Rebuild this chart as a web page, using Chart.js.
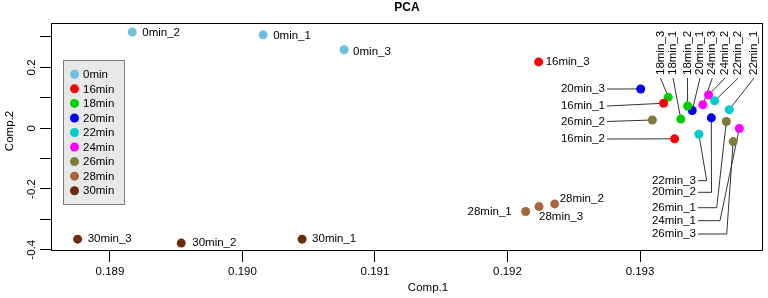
<!DOCTYPE html>
<html>
<head>
<meta charset="utf-8">
<script src="https://cdn.jsdelivr.net/npm/chart.js@4.4.1/dist/chart.umd.min.js"></script>
<style>
  html, body { margin: 0; padding: 0; background: #fff; }
  canvas { display: block; }
</style>
</head>
<body>
<canvas id="pcaChart" width="768" height="298"></canvas>
<script>
// groups and replicate scores (_1, _2, _3)
const groups = ['0min', '16min', '18min', '20min', '22min', '24min', '26min', '28min', '30min'];
const groupColors = ['#6EBFE0', '#FF0000', '#00CD00', '#0000EE', '#00CDCD', '#FF00FF', '#7D7A3A', '#A5663F', '#6E2C0C'];

const comp1 = [
    [0.190156, 0.189168, 0.190767],
    [0.193178, 0.193261, 0.192235],
    [0.193308, 0.193359, 0.193213],
    [0.193394, 0.193538, 0.193005],
    [0.193673, 0.193563, 0.193444],
    [0.193749, 0.193517, 0.193474],
    [0.193651, 0.193093, 0.193703],
    [0.192137, 0.192356, 0.192238],
    [0.190450, 0.189538, 0.188756]
];
const comp2 = [
    [0.307, 0.316, 0.258],
    [0.082, -0.035, 0.218],
    [0.030, 0.073, 0.102],
    [0.058, 0.034, 0.129],
    [0.061, 0.090, -0.020],
    [-0.001, 0.109, 0.077],
    [0.022, 0.027, -0.044],
    [-0.274, -0.249, -0.258],
    [-0.365, -0.378, -0.365]
];

const xTicks = [0.189, 0.190, 0.191, 0.192, 0.193];
const yTicks = [-0.4, -0.3, -0.2, -0.1, 0, 0.1, 0.2, 0.3];
const yTickLabels = { '-0.4': '-0.4', '-0.2': '-0.2', '0': '0', '0.2': '0.2' };

// label placement (pixels): plain offset labels, side labels with leaders, rotated top labels
const labelLayout = {
    '0min_1': { dx: 10, dy: 1 }, '0min_2': { dx: 10, dy: 1 }, '0min_3': { dx: 9, dy: 2 },
    '16min_3': { dx: 7, dy: 0 },
    '28min_1': { dx: -14, dy: 0, align: 'right' }, '28min_2': { dx: 5, dy: -5 }, '28min_3': { dx: 0, dy: 10 },
    '30min_1': { dx: 10, dy: 0 }, '30min_2': { dx: 11, dy: 0 }, '30min_3': { dx: 10, dy: 0 },
    '20min_3': { at: [605, 89], align: 'right' },
    '16min_1': { at: [605, 106], align: 'right' },
    '26min_2': { at: [605, 121.5], align: 'right' },
    '16min_2': { at: [605, 139], align: 'right' },
    '22min_3': { at: [696, 180.7], align: 'right', elbow: [706.7, 180.7] },
    '20min_2': { at: [696, 192.3], align: 'right', elbow: [711.5, 192.3] },
    '26min_1': { at: [696, 207.7], align: 'right', elbow: [716.7, 207.7] },
    '24min_1': { at: [696, 220.7], align: 'right', elbow: [720, 220.7] },
    '26min_3': { at: [696, 234], align: 'right', elbow: [726.7, 234] },
    '18min_3': { at: [660.5, 75], rot: true }, '18min_1': { at: [673, 75], rot: true },
    '18min_2': { at: [687.5, 75], rot: true }, '20min_1': { at: [700, 75], rot: true },
    '24min_3': { at: [712.3, 75], rot: true }, '24min_2': { at: [725, 75], rot: true },
    '22min_2': { at: [738.3, 75], rot: true }, '22min_1': { at: [754, 75], rot: true }
};

const FONT = '11.5px "Liberation Sans", Arial, sans-serif';

function eachPoint(chart, fn) {
    chart.data.datasets.forEach(ds => {
        ds.data.forEach(p => {
            fn(p, chart.scales.x.getPixelForValue(p.x), chart.scales.y.getPixelForValue(p.y));
        });
    });
}

const pcaDecor = {
    id: 'pcaDecor',
    beforeDatasetsDraw(chart) {
        const ctx = chart.ctx;
        ctx.save();
        ctx.strokeStyle = '#333';
        ctx.lineWidth = 1;
        eachPoint(chart, (p, px, py) => {
            const L = labelLayout[p.name];
            if (!L || !L.at) return;
            ctx.beginPath();
            if (L.rot) {
                ctx.moveTo(L.at[0], L.at[1] + 3);
            } else {
                ctx.moveTo(L.at[0] + 2, L.at[1]);
                if (L.elbow) ctx.lineTo(L.elbow[0], L.elbow[1]);
            }
            ctx.lineTo(px, py);
            ctx.stroke();
        });
        ctx.restore();
    },
    afterDatasetsDraw(chart) {
        const ctx = chart.ctx;
        const a = chart.chartArea;
        ctx.save();

        // frame
        ctx.strokeStyle = '#000';
        ctx.lineWidth = 1;
        ctx.strokeRect(Math.round(a.left) + 0.5, Math.round(a.top) + 0.5,
            Math.round(a.right - a.left) - 1, Math.round(a.bottom - a.top) - 1);

        ctx.fillStyle = '#000';
        ctx.textBaseline = 'middle';

        // title + axis titles
        ctx.font = 'bold 12px "Liberation Sans", Arial, sans-serif';
        ctx.textAlign = 'center';
        ctx.fillText('PCA', 407, 8);
        ctx.font = FONT;
        ctx.fillText('Comp.1', 428, 288);
        ctx.save();
        ctx.translate(10, 131);
        ctx.rotate(-Math.PI / 2);
        ctx.fillText('Comp.2', 0, 0);
        ctx.restore();

        // rotated y tick labels
        yTicks.forEach(v => {
            const lab = yTickLabels[String(v)];
            if (!lab) return;
            ctx.save();
            ctx.translate(31.5, chart.scales.y.getPixelForValue(v));
            ctx.rotate(-Math.PI / 2);
            ctx.fillText(lab, 0, 0);
            ctx.restore();
        });

        // point labels
        eachPoint(chart, (p, px, py) => {
            const L = labelLayout[p.name] || { dx: 10, dy: 0 };
            ctx.textAlign = L.align || 'left';
            if (L.rot) {
                ctx.save();
                ctx.translate(L.at[0], L.at[1]);
                ctx.rotate(-Math.PI / 2);
                ctx.textAlign = 'left';
                ctx.fillText(p.name, 0, 0);
                ctx.restore();
            } else if (L.at) {
                ctx.fillText(p.name, L.at[0], L.at[1]);
            } else {
                ctx.fillText(p.name, px + L.dx, py + L.dy);
            }
        });

        // legend
        ctx.fillStyle = '#E8E8E8';
        ctx.fillRect(63.5, 60, 61, 144.5);
        ctx.strokeStyle = '#7a7a7a';
        ctx.strokeRect(63.5, 60.5, 61, 144);
        ctx.textAlign = 'left';
        groups.forEach((g, i) => {
            const y = 74.3 + i * 14.55;
            ctx.fillStyle = groupColors[i];
            ctx.beginPath();
            ctx.arc(74.5, y, 4.5, 0, Math.PI * 2);
            ctx.fill();
            ctx.fillStyle = '#000';
            ctx.fillText(g, 83, y + 0.5);
        });
        ctx.restore();
    }
};

new Chart(document.getElementById('pcaChart').getContext('2d'), {
    type: 'scatter',
    data: {
        datasets: groups.map((g, i) => ({
            label: g,
            data: comp1[i].map((x, j) => ({ x: x, y: comp2[i][j], name: g + '_' + (j + 1) })),
            backgroundColor: groupColors[i],
            borderColor: groupColors[i],
            borderWidth: 0,
            pointRadius: 4.5,
            pointHoverRadius: 4.5
        }))
    },
    options: {
        responsive: false,
        animation: false,
        layout: { padding: { top: 23, right: 5, left: 0, bottom: 0 } },
        plugins: {
            legend: { display: false },
            tooltip: { enabled: false },
            title: { display: false }
        },
        scales: {
            x: {
                type: 'linear',
                min: 0.188555,
                max: 0.193928,
                afterBuildTicks: s => { s.ticks = xTicks.map(v => ({ value: v })); },
                afterFit: s => { s.height = 47; },
                grid: { drawOnChartArea: false, drawTicks: true, tickLength: 11, color: '#000' },
                border: { display: false },
                ticks: {
                    color: '#000',
                    font: { family: '"Liberation Sans", Arial, sans-serif', size: 11.5 },
                    padding: 3,
                    autoSkip: false,
                    maxRotation: 0,
                    callback: v => v.toFixed(3)
                }
            },
            y: {
                type: 'linear',
                min: -0.404,
                max: 0.346,
                afterBuildTicks: s => { s.ticks = yTicks.map(v => ({ value: v })); },
                afterFit: s => { s.width = 51; },
                grid: { drawOnChartArea: false, drawTicks: true, tickLength: 11, color: '#000' },
                border: { display: false },
                ticks: { display: false }
            }
        }
    },
    plugins: [pcaDecor]
});
</script>
</body>
</html>
